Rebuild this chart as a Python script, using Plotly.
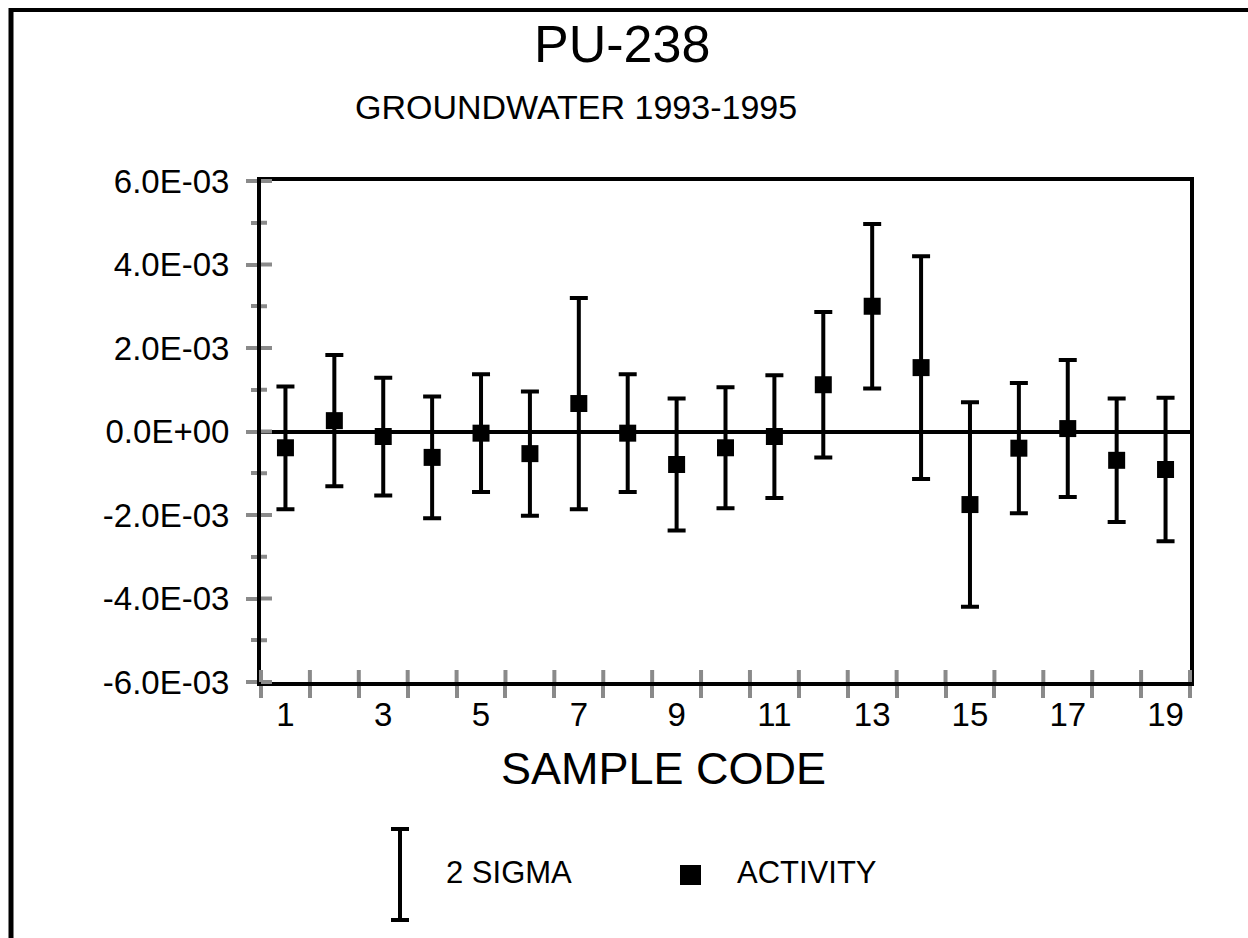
import plotly.graph_objects as go

# data (values in units of 1E-03)
sample_codes = list(range(1, 20))
activity = [-0.39, 0.26, -0.12, -0.62, -0.04, -0.53, 0.67, -0.04, -0.79, -0.39,
            -0.12, 1.12, 3.00, 1.53, -1.75, -0.40, 0.07, -0.69, -0.91]
two_sigma = [1.47, 1.57, 1.41, 1.46, 1.41, 1.49, 2.53, 1.41, 1.58, 1.45,
             1.47, 1.74, 1.97, 2.67, 2.45, 1.56, 1.64, 1.48, 1.72]
activity = [v * 1e-3 for v in activity]
two_sigma = [v * 1e-3 for v in two_sigma]

y_tick_vals = [-6e-3, -4e-3, -2e-3, 0.0, 2e-3, 4e-3, 6e-3]
y_tick_text = ['-6.0E-03', '-4.0E-03', '-2.0E-03', '0.0E+00', '2.0E-03', '4.0E-03', '6.0E-03']
y_minor_vals = [-5e-3, -3e-3, -1e-3, 1e-3, 3e-3, 5e-3]
x_label_vals = sample_codes[::2]
x_tick_edges = [c - 0.5 for c in sample_codes] + [sample_codes[-1] + 0.5]

X_RANGE = [0.5, 19.5]
Y_RANGE = [-6e-3, 6e-3]

FONT = 'Liberation Sans, Arial, sans-serif'
GRAY = '#8a8a8a'
X_TICK, Y_TICK, Y_MINOR = 12, 11, 6

# plot-area edges in pixels, used to place the free text and the legend keys
L, R, T, B = 261, 1190, 181, 682


def px(x):
    return (x - L) / (R - L)


def py(y):
    return (B - y) / (B - T)


def xfrac(v):
    return (v - X_RANGE[0]) / (X_RANGE[1] - X_RANGE[0])


def yfrac(v):
    return (v - Y_RANGE[0]) / (Y_RANGE[1] - Y_RANGE[0])


fig = go.Figure()
fig.add_trace(go.Scatter(
    x=sample_codes, y=activity,
    mode='markers',
    marker=dict(symbol='square', size=17, color='black'),
    error_y=dict(type='data', array=two_sigma, visible=True,
                 color='black', thickness=4, width=9),
    showlegend=False,
))

fig.update_layout(
    width=1248, height=938,
    margin=dict(l=L, r=1248 - R, t=T, b=938 - B),
    paper_bgcolor='white', plot_bgcolor='white',
    font=dict(family=FONT, color='black'),
    showlegend=False,
    xaxis=dict(
        range=X_RANGE, showgrid=False, zeroline=False,
        showline=True, linecolor='black', linewidth=4, mirror=True,
        tickmode='array', tickvals=x_label_vals, ticktext=[str(v) for v in x_label_vals],
        ticks='', ticklabelstandoff=0, tickfont=dict(size=33),
        minor=dict(tickmode='array', tickvals=x_tick_edges, ticks='outside',
                   ticklen=X_TICK, tickwidth=4, tickcolor=GRAY, showgrid=False),
    ),
    yaxis=dict(
        range=Y_RANGE, showgrid=False,
        zeroline=True, zerolinecolor='black', zerolinewidth=4,
        showline=True, linecolor='black', linewidth=4, mirror=True,
        tickmode='array', tickvals=y_tick_vals, ticktext=y_tick_text,
        ticks='outside', ticklen=Y_TICK, tickwidth=4, tickcolor=GRAY,
        ticklabelstandoff=10, tickfont=dict(size=33),
        minor=dict(tickmode='array', tickvals=y_minor_vals, ticks='outside',
                   ticklen=Y_MINOR, tickwidth=4, tickcolor=GRAY, showgrid=False),
    ),
)

# inner half of the crossing tick marks (the outer half comes from the axes)
tick_line = dict(color=GRAY, width=4)
for xv in x_tick_edges:
    fig.add_shape(type='line', xref='paper', yref='paper', layer='above',
                  x0=xfrac(xv), x1=xfrac(xv), y0=0, y1=X_TICK / (B - T), line=tick_line)
for yv in y_tick_vals:
    fig.add_shape(type='line', xref='paper', yref='paper', layer='above',
                  x0=0, x1=Y_TICK / (R - L), y0=yfrac(yv), y1=yfrac(yv), line=tick_line)
for yv in y_minor_vals:
    fig.add_shape(type='line', xref='paper', yref='paper', layer='above',
                  x0=0, x1=Y_MINOR / (R - L), y0=yfrac(yv), y1=yfrac(yv), line=tick_line)

annotations = [
    dict(text='PU-238', x=px(622), y=py(44), font=dict(size=52)),
    dict(text='GROUNDWATER 1993-1995', x=px(576), y=py(107), font=dict(size=34)),
    dict(text='SAMPLE CODE', x=px(663), y=py(768), font=dict(size=45)),
    dict(text='2 SIGMA', x=px(444), y=py(872), xanchor='left', font=dict(size=31)),
    dict(text='ACTIVITY', x=px(735), y=py(872), xanchor='left', font=dict(size=31)),
]
for a in annotations:
    a.setdefault('xanchor', 'center')
    fig.add_annotation(xref='paper', yref='paper', yanchor='middle', showarrow=False, **a)

line = dict(color='black', width=4)
shapes = [
    # outer frame (top and left edges visible)
    dict(type='line', x0=px(11), x1=px(1260), y0=py(10), y1=py(10), line=dict(color='black', width=4)),
    dict(type='line', x0=px(11), x1=px(11), y0=py(8), y1=py(950), line=dict(color='black', width=5)),
    # legend keys
    dict(type='line', x0=px(400), x1=px(400), y0=py(829), y1=py(920), line=line),
    dict(type='line', x0=px(391), x1=px(409), y0=py(829), y1=py(829), line=line),
    dict(type='line', x0=px(391), x1=px(409), y0=py(920), y1=py(920), line=line),
    dict(type='rect', x0=px(680), x1=px(701), y0=py(865), y1=py(885),
         fillcolor='black', line=dict(width=0)),
]
for s in shapes:
    fig.add_shape(xref='paper', yref='paper', **s)

# drop the default page margin so the figure sits at the window's corner
fig.write_html('out.html', config={'displayModeBar': False},
               post_script="document.body.style.margin='0px';")
